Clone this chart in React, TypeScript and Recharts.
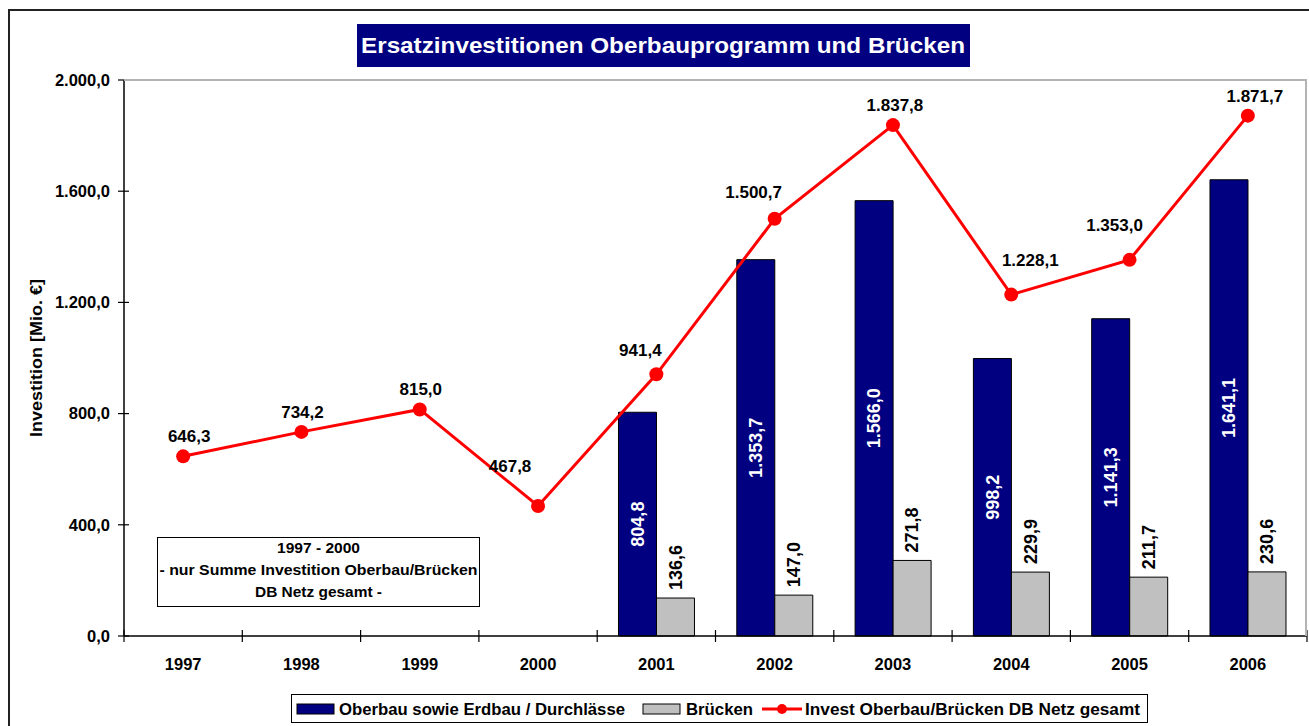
import { Bar, ComposedChart, LabelList, Line, XAxis, YAxis } from 'recharts';

const years = ['1997', '1998', '1999', '2000', '2001', '2002', '2003', '2004', '2005', '2006'];
const oberbau = [null, null, null, null, 804.8, 1353.7, 1566.0, 998.2, 1141.3, 1641.1];
const bruecken = [null, null, null, null, 136.6, 147.0, 271.8, 229.9, 211.7, 230.6];
const gesamt = [646.3, 734.2, 815.0, 467.8, 941.4, 1500.7, 1837.8, 1228.1, 1353.0, 1871.7];
const yTicks = [0, 400, 800, 1200, 1600, 2000];

// hand placed label nudges of the total line (dx, dy), as in the original
const labelNudge: [number, number][] = [
  [6, 0], [1, 0], [1, 0], [-28, -20], [-16, -4], [-21, -7], [2, 0], [19, -15], [-15, -15], [7, 0],
];

const data = years.map((year, i) => ({
  year,
  oberbau: oberbau[i],
  bruecken: bruecken[i],
  gesamt: gesamt[i],
}));

const FONT = '"Liberation Sans", Arial, sans-serif';
const NAVY = '#000080';
const GREY = '#C0C0C0';
const RED = '#FF0000';

// german number format: 1.353,7
function fmt(v: number) {
  const [i, d] = v.toFixed(1).split('.');
  return i.replace(/\B(?=(\d{3})+(?!\d))/g, '.') + ',' + d;
}

function YTick({ x, y, payload }: any) {
  return (
    <g>
      <line x1={x - 6} x2={x + 5} y1={y} y2={y} stroke="#000" strokeWidth={1.2} />
      <text x={x - 14} y={y} dy="0.35em" textAnchor="end" fontFamily={FONT} fontWeight="bold" fontSize={16.5} fill="#000">
        {fmt(payload.value)}
      </text>
    </g>
  );
}

// year label at band centre, tick marks on the band edges
function YearTick({ x, y, payload, index }: any) {
  const half = payload.offset || 0;
  return (
    <g>
      <line x1={x - half} x2={x - half} y1={y - 6} y2={y + 6} stroke="#000" strokeWidth={1.2} />
      {index === years.length - 1 && (
        <line x1={x + half} x2={x + half} y1={y - 6} y2={y + 6} stroke="#000" strokeWidth={1.2} />
      )}
      <text x={x} y={y + 34} textAnchor="middle" fontFamily={FONT} fontWeight="bold" fontSize={16.5} fill="#000">
        {payload.value}
      </text>
    </g>
  );
}

function InsideLabel({ x, y, width, height, value }: any) {
  if (value == null) return null;
  const cx = x + width / 2;
  const cy = y + height / 2;
  return (
    <text x={cx} y={cy} dy="0.35em" transform={`rotate(-90, ${cx}, ${cy})`} textAnchor="middle"
      fontFamily={FONT} fontWeight="bold" fontSize={18} fill="#fff">
      {fmt(value)}
    </text>
  );
}

function TopLabel({ x, y, width, value }: any) {
  if (value == null) return null;
  const cx = x + width / 2;
  const cy = y - 8;
  return (
    <text x={cx} y={cy} dy="0.35em" transform={`rotate(-90, ${cx}, ${cy})`} textAnchor="start"
      fontFamily={FONT} fontWeight="bold" fontSize={18} fill="#000">
      {fmt(value)}
    </text>
  );
}

function PointLabel({ x, y, value, index }: any) {
  if (value == null) return null;
  const [dx, dy] = labelNudge[index] || [0, 0];
  return (
    <text x={x + dx} y={y - 14 + dy} textAnchor="middle" fontFamily={FONT} fontWeight="bold" fontSize={17} fill="#000">
      {fmt(value)}
    </text>
  );
}

function AxisTitle({ viewBox }: any) {
  const x = viewBox.x + 28;
  const y = viewBox.y + viewBox.height / 2;
  return (
    <text x={x} y={y} dy="0.35em" transform={`rotate(-90, ${x}, ${y})`} textAnchor="middle"
      fontFamily={FONT} fontWeight="bold" fontSize={17} fill="#000" textLength={158} lengthAdjust="spacingAndGlyphs">
      Investition [Mio. €]
    </text>
  );
}

export default function App() {
  return (
    <div style={{ position: 'absolute', left: 0, top: 0, width: 1309, height: 726, overflow: 'hidden', background: '#fff', fontFamily: FONT }}>
      <div style={{ position: 'absolute', left: 8, top: 9, width: 1320, height: 730, border: '2px solid #222' }} />

      <ComposedChart
        width={1309}
        height={726}
        data={data}
        margin={{ top: 80, right: 2, left: 8, bottom: 89 }}
        barCategoryGap="18%"
        barGap={0}
        style={{ position: 'absolute', left: 0, top: 0 }}
      >
        <XAxis
          dataKey="year"
          height={1}
          axisLine={{ stroke: '#000', strokeWidth: 1.5 }}
          tickLine={false}
          tickSize={0}
          tickMargin={0}
          tick={<YearTick />}
          interval={0}
        />
        <YAxis
          width={116}
          domain={[0, 2000]}
          ticks={yTicks}
          axisLine={{ stroke: '#000', strokeWidth: 1.5 }}
          tickLine={false}
          tickSize={0}
          tickMargin={0}
          tick={<YTick />}
          label={{ content: <AxisTitle /> }}
        />
        <Bar dataKey="oberbau" fill={NAVY} stroke="#000" strokeWidth={1} isAnimationActive={false}>
          <LabelList dataKey="oberbau" content={<InsideLabel />} />
        </Bar>
        <Bar dataKey="bruecken" fill={GREY} stroke="#000" strokeWidth={1} isAnimationActive={false}>
          <LabelList dataKey="bruecken" content={<TopLabel />} />
        </Bar>
        <Line
          dataKey="gesamt"
          stroke={RED}
          strokeWidth={3}
          dot={{ r: 7, fill: RED, stroke: 'none' }}
          activeDot={false}
          isAnimationActive={false}
        >
          <LabelList dataKey="gesamt" content={<PointLabel />} />
        </Line>
      </ComposedChart>

      {/* plot area frame, top and right */}
      <div style={{ position: 'absolute', left: 124, top: 79, width: 1183, height: 557, borderTop: '2px solid #b4b4b4', borderRight: '2px solid #b4b4b4', boxSizing: 'border-box', pointerEvents: 'none' }} />

      <svg width={613} height={43} style={{ position: 'absolute', left: 357, top: 24 }}>
        <rect width={613} height={43} fill={NAVY} />
        <text x={4} y={29} fontFamily={FONT} fontWeight="bold" fontSize={22} fill="#fff" textLength={604} lengthAdjust="spacingAndGlyphs">
          Ersatzinvestitionen Oberbauprogramm und Brücken
        </text>
      </svg>

      <svg width={323} height={70} style={{ position: 'absolute', left: 157, top: 537 }}>
        <rect x={0.5} y={0.5} width={322} height={69} fill="#fff" stroke="#000" />
        <g fontFamily={FONT} fontWeight="bold" fontSize={15} fill="#000" textAnchor="middle">
          <text x={161.5} y={16} textLength={83} lengthAdjust="spacingAndGlyphs">1997 - 2000</text>
          <text x={161.5} y={38} textLength={318} lengthAdjust="spacingAndGlyphs">- nur Summe Investition Oberbau/Brücken</text>
          <text x={161.5} y={60} textLength={127} lengthAdjust="spacingAndGlyphs">DB Netz gesamt -</text>
        </g>
      </svg>

      <div style={{ position: 'absolute', left: 291, top: 694, width: 857, height: 29, border: '1px solid #000', boxSizing: 'border-box', background: '#fff' }}>
        <svg width={855} height={27} style={{ display: 'block' }}>
          <rect x={5} y={9} width={37} height={10} fill={NAVY} stroke="#000" />
          <text x={47} y={20} fontFamily={FONT} fontWeight="bold" fontSize={16} textLength={286} lengthAdjust="spacingAndGlyphs">
            Oberbau sowie Erdbau / Durchlässe
          </text>
          <rect x={351} y={9} width={37} height={10} fill={GREY} stroke="#000" />
          <text x={394} y={20} fontFamily={FONT} fontWeight="bold" fontSize={16} textLength={67} lengthAdjust="spacingAndGlyphs">
            Brücken
          </text>
          <line x1={470} x2={510} y1={14} y2={14} stroke={RED} strokeWidth={3} />
          <circle cx={490} cy={14} r={5} fill={RED} />
          <text x={513} y={20} fontFamily={FONT} fontWeight="bold" fontSize={16} textLength={335} lengthAdjust="spacingAndGlyphs">
            Invest Oberbau/Brücken DB Netz gesamt
          </text>
        </svg>
      </div>
    </div>
  );
}
